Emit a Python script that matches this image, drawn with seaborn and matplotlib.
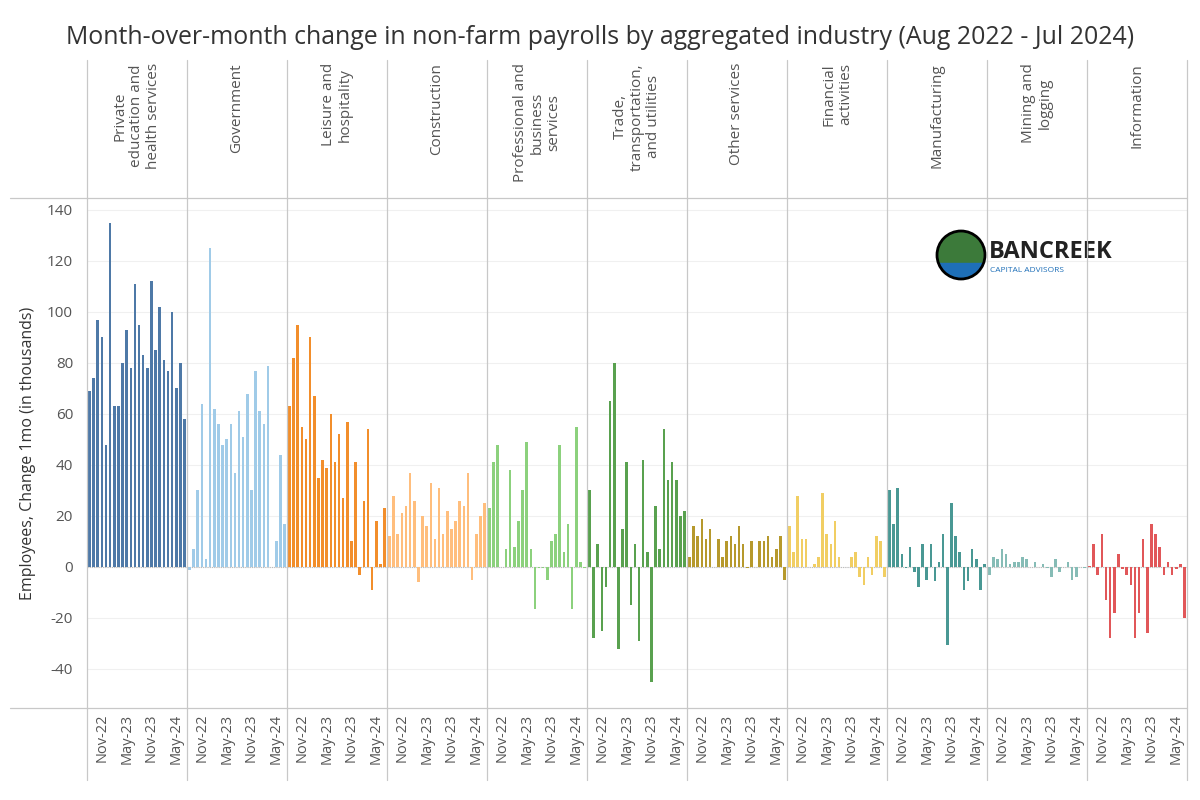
import matplotlib
matplotlib.use("Agg")
import matplotlib.pyplot as plt
import seaborn as sns
import pandas as pd
from matplotlib.patches import Circle, Rectangle

sns.set_theme(style="white")
plt.rcParams['font.family'] = ['Open Sans', 'DejaVu Sans']

months = pd.date_range("2022-08-01", "2024-07-01", freq="MS")
tick_idx = [3, 9, 15, 21]
tick_labels = ["Nov-22", "May-23", "Nov-23", "May-24"]

industries = ["Private\neducation and\nhealth services", "Government", "Leisure and\nhospitality",
              "Construction", "Professional and\nbusiness\nservices", "Trade,\ntransportation,\nand utilities",
              "Other services", "Financial\nactivities", "Manufacturing", "Mining and\nlogging", "Information"]
colors = ["#4e79a7", "#a0cbe8", "#f28e2b", "#ffbe7d", "#8cd17d", "#59a14f",
          "#b6992d", "#f1ce63", "#499894", "#86bcb6", "#e15759"]

private_ed = [69,74,97,90,48,135,63,63,80,93,78,111,95,83,78,112,85,102,81,77,100,70,80,58]
government = [-1,7,30,64,3,125,62,56,48,50,56,37,61,51,68,30,77,61,56,79,0,10,44,17]
leisure = [63,82,95,55,50,90,67,35,42,39,60,41,52,27,57,10,41,-3,26,54,-9,18,1,23]
construction = [12,28,13,21,24,37,26,-6,20,16,33,11,31,13,22,15,18,26,24,37,-5,13,20,25]
professional = [23,41,48,0,7,38,8,18,30,49,7,-16.5,-0.5,-0.5,-5,10,13,48,6,17,-16.5,55,2,-0.5]
trade = [30,-28,9,-25,-8,65,80,-32,15,41,-15,9,-29,42,6,-45,24,7,54,34,41,34,20,22]
other = [4,16,12,19,11,15,0,11,4,10,12,9,16,9,-0.5,10,0,10,10,12,4,7,12,-5]
financial = [16,6,28,11,11,0,1,4,29,13,9,18,4,0,0,4,6,-4,-7,4,-3,12,10,-4]
manufacturing = [30,17,31,5,-0.5,8,-2,-8,9,-5,9,-5.6,2,13,-30.6,25,12,6,-9,-5.6,7,3,-9,1]
mining = [-3,4,3,7,5,1,2,2,4,3,0,2,0,1,-0.4,-4,3,-2,0,2,-5,-4,0,-0.5]
information = [0.5,9,-3,13,-13,-28,-18,5,-0.6,-3,-7,-28,-18,11,-26,17,13,8,-3,2,-3,-0.8,1,-20]
series = [private_ed, government, leisure, construction, professional, trade,
          other, financial, manufacturing, mining, information]

W, H = 1200, 800
fig = plt.figure(figsize=(12, 8), dpi=100)
fig.patch.set_facecolor("white")
left0, pw = 87, 100
ytop, ybot = 198, 708
ymin, ymax = -55.3, 144.7
grey = "#c8c8c8"
txt = "#555555"

for i, (name, vals, col) in enumerate(zip(industries, series, colors)):
    x0 = left0 + i * pw
    ax = fig.add_axes([x0 / W, 1 - ybot / H, pw / W, (ybot - ytop) / H])
    df = pd.DataFrame({"m": range(24), "v": vals})
    sns.barplot(data=df, x="m", y="v", color=col, saturation=1, width=0.62,
                linewidth=0, edgecolor=col, ax=ax, zorder=2)
    ax.set_ylim(ymin, ymax)
    ax.set_xlim(-0.6, 23.6)
    for g in range(-40, 141, 20):
        ax.axhline(g, color="#f0f0f0", lw=0.8, zorder=0)
    ax.axhline(0, color="#bbbbbb", lw=0.8, ls=(0, (1, 1)), zorder=0.5)
    ax.set_xticks(tick_idx)
    ax.set_xticklabels(tick_labels, rotation=90, fontsize=10.5, color=txt)
    ax.tick_params(axis="x", length=0, pad=4)
    ax.set_xlabel("")
    ax.set_ylabel("")
    for s in ax.spines.values():
        s.set_visible(False)
    if i == 0:
        ax.set_yticks(range(-40, 141, 20))
        ax.set_yticklabels([str(v) for v in range(-40, 141, 20)], fontsize=11, color=txt)
        ax.tick_params(axis="y", length=0, pad=10)
        ax.set_ylabel("Employees, Change 1mo (in thousands)", fontsize=11.5, color="#333333", labelpad=8)
    else:
        ax.set_yticks([])
    fig.text((x0 + pw / 2) / W, 1 - 63 / H, name, rotation=90, ha="center", va="top",
             fontsize=11, color=txt, multialignment="center", linespacing=1.15)

# frame lines
for i in range(12):
    x = (left0 + i * pw) / W
    fig.add_artist(plt.Line2D([x, x], [1 - 780 / H, 1 - 60 / H], color=grey, lw=0.9))
for y in (ytop, ybot):
    fig.add_artist(plt.Line2D([10 / W, (left0 + 11 * pw) / W], [1 - y / H, 1 - y / H], color=grey, lw=0.9))

fig.text(0.5, 1 - 37 / H, "Month-over-month change in non-farm payrolls by aggregated industry (Aug 2022 - Jul 2024)",
         ha="center", va="center", fontsize=17.9, color="#333333")

# logo
lax = fig.add_axes([935 / W, 1 - 285 / H, 180 / W, 60 / H])
lax.set_xlim(0, 180); lax.set_ylim(0, 60); lax.axis("off")
circ = Circle((26, 30), 24, color="#3c7a3a")
lax.add_patch(circ)
water = Rectangle((2, 4), 48, 18, color="#1e6fb8")
lax.add_patch(water)
water.set_clip_path(circ)
lax.add_patch(Circle((26, 30), 24, fill=False, ec="black", lw=2))
lax.text(54, 33, "BANCREEK", fontsize=17, fontweight="bold", color="#222222", va="center")
lax.text(55, 15, "CAPITAL ADVISORS", fontsize=6, color="#1e6fb8", va="center")

fig.savefig("out.png", dpi=100, facecolor="white")
